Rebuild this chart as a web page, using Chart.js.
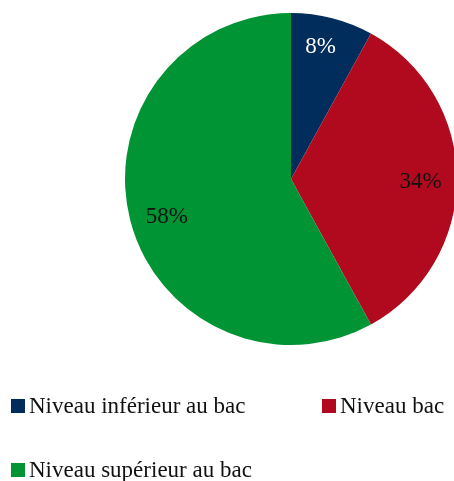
<!DOCTYPE html>
<html>
<head>
<meta charset="utf-8">
<script src="https://cdn.jsdelivr.net/npm/chart.js@4/dist/chart.umd.min.js"></script>
<style>
  html, body { margin: 0; padding: 0; background: #fff; overflow: hidden; width: 454px; height: 481px; }
  #wrap { position: absolute; left: 0; top: 0; width: 582px; height: 358px; }
  #legend { position: absolute; left: 0; top: 0; width: 454px; height: 481px; pointer-events: none;
            font-family: "Liberation Serif", "DejaVu Serif", serif; font-size: 23px; color: #111; }
  .sw { position: absolute; width: 14px; height: 14px; }
  .tx { position: absolute; white-space: nowrap; line-height: 1; }
</style>
</head>
<body>
<div id="wrap"><canvas id="c" width="582" height="358"></canvas></div>
<div id="legend"></div>
<script>
const categories = ["Niveau inférieur au bac", "Niveau bac", "Niveau supérieur au bac"];
const values = [8, 34, 58];
const colors = ["#002D5C", "#B10A1F", "#019435"];
const labelColors = ["#ffffff", "#111111", "#111111"];
const labelRadius = [0.82, 0.78, 0.78];
const labelAngleShiftDeg = [-1.8, 0.9, -2.2];

const pctLabels = {
  id: "pctLabels",
  afterDatasetsDraw(chart) {
    const ctx = chart.ctx;
    const meta = chart.getDatasetMeta(0);
    const total = values.reduce((a, b) => a + b, 0);
    ctx.save();
    ctx.font = '23px "Liberation Serif", "DejaVu Serif", serif';
    ctx.textAlign = "center";
    ctx.textBaseline = "middle";
    meta.data.forEach((arc, i) => {
      const p = arc.getProps(["x", "y", "startAngle", "endAngle", "outerRadius"], true);
      const mid = (p.startAngle + p.endAngle) / 2 + labelAngleShiftDeg[i] * Math.PI / 180;
      const r = p.outerRadius * labelRadius[i];
      ctx.fillStyle = labelColors[i];
      ctx.fillText(Math.round(values[i] / total * 100) + "%", p.x + Math.cos(mid) * r, p.y + Math.sin(mid) * r + 1);
    });
    ctx.restore();
  }
};

new Chart(document.getElementById("c"), {
  type: "pie",
  data: {
    labels: categories,
    datasets: [{ data: values, backgroundColor: colors, borderWidth: 0 }]
  },
  options: {
    responsive: false,
    animation: false,
    layout: { padding: 13 },
    plugins: { legend: { display: false }, tooltip: { enabled: false } }
  },
  plugins: [pctLabels]
});

// HTML legend built from the data arrays
const legendPos = [
  { x: 11, y: 399 },
  { x: 322, y: 399 },
  { x: 11, y: 463 }
];
const lg = document.getElementById("legend");
categories.forEach((name, i) => {
  const sw = document.createElement("div");
  sw.className = "sw";
  sw.style.background = colors[i];
  sw.style.left = legendPos[i].x + "px";
  sw.style.top = legendPos[i].y + "px";
  lg.appendChild(sw);
  const tx = document.createElement("div");
  tx.className = "tx";
  tx.textContent = name;
  tx.style.left = (legendPos[i].x + 18) + "px";
  tx.style.top = (legendPos[i].y - 5) + "px";
  lg.appendChild(tx);
});
</script>
</body>
</html>
